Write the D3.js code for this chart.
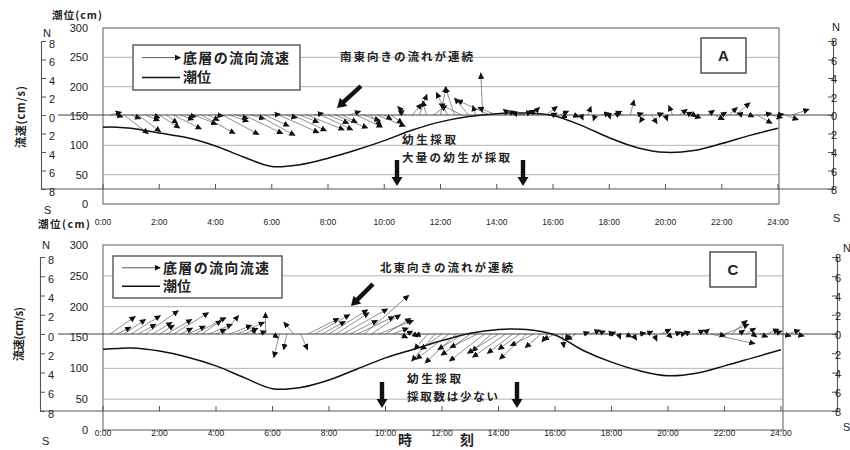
<!DOCTYPE html>
<html>
<head>
<meta charset="utf-8">
<script src="https://cdn.jsdelivr.net/npm/d3@7"></script>
<style>
	body { margin: 0; background: #fff; }
	svg text { font-family: "Liberation Sans", "Noto Sans CJK JP", sans-serif; fill: #222; }
	.jp { font-family: "Noto Sans CJK JP", sans-serif; font-weight: bold; }
</style>
</head>
<body>
<svg id="chart" width="850" height="450"></svg>
<script>

///////////////////////////////
// 	         Data            //
///////////////////////////////

// tide level (cm)
var tideHours = [0, 0.5, 1, 2, 3, 4, 5, 6, 7, 8, 9, 10, 11, 12, 13, 14, 15, 16, 17, 18, 19, 20, 21, 22, 23, 24];
var tideA = [131, 131, 129, 121, 113, 99, 80, 64, 67, 78, 92, 108, 126, 140, 149, 154, 155, 151, 134, 113, 96, 88, 91, 103, 117, 129];
var tideC = [131, 132, 133, 128, 118, 104, 85, 67, 69, 81, 99, 117, 131, 145, 157, 163, 163, 154, 129, 110, 96, 88, 92, 104, 117, 130];

// axis ticks
var timeTicks = [0, 2, 4, 6, 8, 10, 12, 14, 16, 18, 20, 22, 24];
var timeLabels = ["0:00", "2:00", "4:00", "6:00", "8:00", "10:00", "12:00", "14:00", "16:00", "18:00", "20:00", "22:00", "24:00"];
var tideTicks = [0, 50, 100, 150, 200, 250, 300];
var velTicks = [-8, -6, -4, -2, 0, 2, 4, 6, 8];
var velLabels = ["8", "6", "4", "2", "0", "2", "4", "6", "8"];

// bottom current, every 15 min from 0:15 : east (u) and north (v) components, cm/s
// (one row per hour)
var stepMin = 15;
var uA = [1.2, 0.6, 2.6, 1.0,   2.4, 1.5, 0.8, 2.2,   1.2, 3.0, 1.4, 0.9,   2.4, 3.6, 1.1, 0.8,
	3.9, 2.0, 1.2, 4.2,   1.5, 4.0, 2.6, 0.9,   4.3, 1.2, 3.6, 2.0,   4.0, 1.0, 3.4, 2.2,
	3.5, 1.6, 1.2, 2.8,   1.8, 1.2, 3.0, 0.8,   1.2, 0.6, -0.8, 1.0,   0.8, -0.4, 1.4, 0.6,
	-1.2, -1.0, -2.4, -1.5,   -0.3, -0.2, -3.5, -2.0,   1.2, -0.8, 1.5, -1.4,   0.8, -1.0, 1.2, 0.4,
	0.9, -0.6, 0.5, 0.2,   0.3, -0.2, 0.8, 0.1,   0.4, -0.8, 0.4, 0.6,   -0.5, 0.6, 0.5, 0.2,
	-0.4, 0.8, 0.6, 0.3,   -0.6, 0.7, 1.0, 0.5,   0.9, 1.5, -0.6, 0.4,   1.6, 0.8, 1.2, 0.6,
	1.4, 1.8];
var vA = [0.3, -0.2, -2.0, -0.4,   -1.8, -0.6, -0.3, -1.4,   -0.9, -1.5, -0.5, -0.2,   -1.0, -2.0, -0.6, -0.1,
	-2.1, -0.7, -0.4, -2.0,   -0.4, -2.2, -1.2, 0.1,   -1.9, -0.3, -1.7, -0.8,   -1.6, 0.2, -1.6, -0.9,
	-1.4, -0.8, 0.4, -1.3,   -0.6, -1.1, -1.2, -0.5,   -0.9, 0.5, 0.9, 1.2,   2.2, 1.5, 1.0, 3.0,
	2.4, 3.0, 1.2, 1.8,   1.0, 4.5, 1.6, 0.8,   0.4, 0.6, 0.3, 0.2,   0.8, 0.5, 0.9, 0.2,
	0.4, -0.3, -0.2, -0.5,   0.9, -0.6, 0.2, -0.4,   0.3, 0.4, 1.6, 0.2,   -0.8, -0.9, 0.2, -0.6,
	1.0, 0.6, 0.3, -0.2,   -0.4, 0.5, -0.5, 0.3,   0.8, 1.3, 0.2, -0.2,   -0.9, 0.2, -0.3, 0.1,
	-0.5, 0.6];
var uC = [2.6, 1.4, 2.2, 3.0,   1.8, 3.4, 2.0, 1.5,   2.6, 3.6, 1.2, 1.8,   3.2, 2.0, 2.4, 1.0,
	1.6, 2.2, 2.8, 1.4,   0.5, 0.8, 0.0, 0.6,   -0.6, -0.3, -1.0, 0.7,   3.2, 3.6, 2.4, 4.0,
	3.4, 4.6, 2.8, 3.8,   4.6, 3.0, 3.6, 2.6,   1.6, 0.8, 0.6, 0.4,   -0.6, -1.4, -2.4, -2.2,
	-3.4, -3.2, -2.6, -3.0,   -2.8, -3.6, -2.0, -3.2,   -3.4, -2.6, -2.2, -2.8,   -2.4, -1.6, -0.6, -1.2,
	0.2, -0.4, -1.0, 0.6,   1.0, 0.8, 1.0, 0.4,   0.2, 0.6, 0.4, 0.6,   0.6, 0.3, 1.0, 0.4,
	0.6, 0.4, -0.5, 0.8,   0.6, 4.6, 0.8, 2.5,   1.6, 0.6, 1.0, 0.4,   0.8, 1.2, 0.8, 1.0,
	1.2, 0.9];
var vC = [1.8, 0.7, 1.5, 1.9,   1.0, 2.4, 1.2, 0.9,   1.5, 2.2, 0.6, 0.8,   1.7, 1.4, 1.0, 0.5,
	1.9, 0.9, 1.2, 0.6,   0.6, 0.3, 2.2, -0.4,   -2.4, -1.6, 1.2, -1.6,   1.6, 2.0, 1.3, 2.5,
	2.2, 2.6, 1.4, 1.8,   4.0, 2.0, 1.4, 1.6,   0.6, -0.4, 0.3, -0.3,   -0.2, -1.6, -2.8, -1.6,
	-2.6, -3.0, -1.6, -2.2,   -1.4, -2.8, -1.8, -2.0,   -2.4, -2.0, -1.6, -2.6,   -1.2, -1.4, -0.8, -0.6,
	-1.4, -0.6, -0.6, 0.2,   0.4, 0.3, 0.1, 0.2,   -0.5, -0.3, -0.6, 0.1,   0.3, -0.7, 0.5, -0.4,
	0.2, 0.1, 0.3, 0.4,   0.5, -1.0, -0.2, 1.0,   1.4, 0.4, 0.6, -0.3,   -0.3, 0.5, 0.3, -0.2,
	0.4, -0.2];

// Panels, layout *****
var panels = [
	{ tide: tideA, u: uA, v: vA, letter: "A",
	  x0: 103, x24: 778, boxRight: 779, boxTop: 28, boxBottom: 204,
	  velTop: 41, velBottom: 189, velLeft: 41, velRight: 833,
	  tideTitle: [52, 15, 50], velTitle: [21, 117, 62], timeLabelY: 222,
	  N: [[43, 33], [832, 27]], S: [[44, 210], [833, 218]],
	  legend: [133, 45, 167, 45], badge: [701, 38, 45, 35],
	  notes: [["南東向きの流れが連続", 340, 57, 133], ["幼生採取", 402, 140, 54], ["大量の幼生が採取", 402, 158, 108]],
	  bold: [[361, 86, 337, 108]], down: [[397, 160, 186], [523, 160, 186]] },
	{ tide: tideC, u: uC, v: vC, letter: "C",
	  x0: 103, x24: 781, boxRight: 783, boxTop: 245, boxBottom: 430,
	  velTop: 257, velBottom: 411, velLeft: 40, velRight: 837,
	  tideTitle: [38, 224, 52], velTitle: [19, 334, 54], timeLabelY: 433,
	  N: [[42, 245], [843, 248]], S: [[42, 441], [843, 427]],
	  legend: [113, 256, 169, 42], badge: [710, 252, 46, 35],
	  notes: [["北東向きの流れが連続", 380, 268, 133], ["幼生採取", 407, 379, 54], ["採取数は少ない", 407, 397, 91]],
	  bold: [[373, 284, 351, 306]], down: [[382, 382, 408], [517, 382, 408]] }
];

var svg = d3.select("#chart");

// arrow head for the current sticks
svg.append("defs").append("marker")
	.attr("id", "head")
	.attr("markerUnits", "userSpaceOnUse")
	.attr("viewBox", "0 -3 6 6")
	.attr("refX", 5).attr("refY", 0)
	.attr("markerWidth", 6.5).attr("markerHeight", 6.5)
	.attr("orient", "auto")
	.append("path")
	.attr("d", "M0,-2.8L6,0L0,2.8Z")
	.attr("fill", "#111");

// thick black arrow, from tail to head
var blockArrow = function( g, x1, y1, x2, y2 ) {
	var dx = x2 - x1, dy = y2 - y1;
	var len = Math.sqrt(dx*dx + dy*dy);
	var ang = Math.atan2(dy, dx) * 180 / Math.PI;
	var hl = 9, hw = 5.5, sw = 2.2;
	var d = "M0," + (-sw) + "L" + (len-hl) + "," + (-sw) + "L" + (len-hl) + "," + (-hw) + "L" + len + ",0L" +
		(len-hl) + "," + hw + "L" + (len-hl) + "," + sw + "L0," + sw + "Z";
	g.append("path")
		.attr("d", d)
		.attr("fill", "#111")
		.attr("transform", "translate(" + x1 + "," + y1 + ") rotate(" + ang + ")");
}

var drawPanel = function( p ) {

	var g = svg.append("g");

	var x = d3.scaleLinear().domain([0, 24]).range([p.x0, p.x24]);
	var yT = d3.scaleLinear().domain([0, 300]).range([p.boxBottom, p.boxTop]);
	var yV = d3.scaleLinear().domain([-8, 8]).range([p.velBottom, p.velTop]);
	var k = yV(0) - yV(1);   // px per cm/s, same both ways

	// gridlines of tide level
	g.selectAll(".grid").data(tideTicks.filter(function(d){ return d > 0 && d < 300 && d != 150 })).enter()
		.append("line")
		.attr("x1", p.x0).attr("x2", p.boxRight)
		.attr("y1", function(d){ return yT(d) }).attr("y2", function(d){ return yT(d) })
		.attr("stroke", "#b4b4b4").attr("stroke-width", 1);

	// plot box
	g.append("rect")
		.attr("x", p.x0).attr("y", p.boxTop)
		.attr("width", p.boxRight - p.x0).attr("height", p.boxBottom - p.boxTop)
		.attr("fill", "none").attr("stroke", "#777").attr("stroke-width", 1.2);

	// tide labels
	g.selectAll(".tlab").data(tideTicks).enter()
		.append("text")
		.attr("x", 88).attr("y", function(d){ return yT(d) })
		.attr("dy", "0.35em")
		.attr("text-anchor", "end")
		.attr("font-size", "11px")
		.text(function(d){ return d });

	// velocity zero line
	g.append("line")
		.attr("x1", 58).attr("x2", p.velRight)
		.attr("y1", yV(0)).attr("y2", yV(0))
		.attr("stroke", "#444").attr("stroke-width", 1.1);

	// velocity bottom axis with time ticks
	g.append("line")
		.attr("x1", p.velLeft).attr("x2", p.velRight)
		.attr("y1", p.velBottom).attr("y2", p.velBottom)
		.attr("stroke", "#555").attr("stroke-width", 1.2);
	g.selectAll(".ttick").data(timeTicks).enter()
		.append("line")
		.attr("x1", function(d){ return x(d) }).attr("x2", function(d){ return x(d) })
		.attr("y1", p.velBottom - 5).attr("y2", p.velBottom)
		.attr("stroke", "#555");

	// left and right velocity axes
	var leftAx = d3.axisRight(yV).tickValues(velTicks).tickSize(5).tickFormat(function(d, i){ return velLabels[i] });
	var rightAx = d3.axisLeft(yV).tickValues(velTicks).tickSize(5).tickFormat("");
	var la = g.append("g").attr("transform", "translate(" + p.velLeft + ",0)").call(leftAx);
	la.selectAll("text").attr("font-size", "11px").attr("x", 8).attr("dy", "0.55em");
	var ra = g.append("g").attr("transform", "translate(" + p.velRight + ",0)").call(rightAx);
	ra.selectAll(".tick").append("text")
		.attr("x", 4).attr("dy", "0.45em")
		.attr("font-size", "11px")
		.text(function(d, i){ return velLabels[i] });
	g.selectAll(".domain").attr("stroke", "#555").attr("stroke-width", 1.1);
	g.selectAll(".tick line").attr("stroke", "#555");

	// time labels
	g.selectAll(".xlab").data(timeTicks).enter()
		.append("text")
		.attr("x", function(d){ return x(d) }).attr("y", p.timeLabelY)
		.attr("dy", "0.35em")
		.attr("text-anchor", "middle")
		.attr("font-size", "8.5px")
		.attr("fill", "#333")
		.text(function(d, i){ return timeLabels[i] });

	// N / S marks
	p.N.forEach(function(c){
		g.append("text").attr("x", c[0]).attr("y", c[1]).attr("dy", "0.35em").attr("font-size", "11px").text("N");
	});
	p.S.forEach(function(c){
		g.append("text").attr("x", c[0]).attr("y", c[1]).attr("dy", "0.35em").attr("font-size", "11px").text("S");
	});

	// axis titles
	g.append("text")
		.attr("class", "jp")
		.attr("x", p.tideTitle[0]).attr("y", p.tideTitle[1])
		.attr("dy", "0.35em")
		.attr("font-size", "10.5px")
		.attr("textLength", p.tideTitle[2])
		.text("潮位(cm)");
	g.append("text")
		.attr("class", "jp")
		.attr("transform", "translate(" + p.velTitle[0] + "," + p.velTitle[1] + ") rotate(-90)")
		.attr("text-anchor", "middle")
		.attr("dy", "0.35em")
		.attr("font-size", "11px")
		.attr("textLength", p.velTitle[2])
		.text("流速(cm/s)");

	// tide curve
	var line = d3.line()
		.x(function(d, i){ return x(tideHours[i]) })
		.y(function(d){ return yT(d) })
		.curve(d3.curveCatmullRom.alpha(0.5));
	g.append("path")
		.datum(p.tide)
		.attr("d", line)
		.attr("fill", "none")
		.attr("stroke", "#111")
		.attr("stroke-width", 1.5);

	// current sticks
	g.selectAll(".stick").data(p.u).enter()
		.append("line")
		.attr("x1", function(d, i){ return x((i+1)*stepMin/60) })
		.attr("y1", yV(0))
		.attr("x2", function(d, i){ return x((i+1)*stepMin/60) + d*k })
		.attr("y2", function(d, i){ return yV(p.v[i]) })
		.attr("stroke", "#444")
		.attr("stroke-width", 0.6)
		.attr("marker-end", "url(#head)");

	// legend
	var lg = p.legend;
	g.append("rect")
		.attr("x", lg[0]).attr("y", lg[1]).attr("width", lg[2]).attr("height", lg[3])
		.attr("fill", "#fff").attr("stroke", "#555").attr("stroke-width", 1.4);
	var r1 = lg[1] + lg[3]*0.28, r2 = lg[1] + lg[3]*0.72;
	g.append("line")
		.attr("x1", lg[0]+9).attr("x2", lg[0]+47).attr("y1", r1).attr("y2", r1)
		.attr("stroke", "#333").attr("stroke-width", 0.8).attr("marker-end", "url(#head)");
	g.append("line")
		.attr("x1", lg[0]+9).attr("x2", lg[0]+47).attr("y1", r2).attr("y2", r2)
		.attr("stroke", "#111").attr("stroke-width", 1.5);
	g.append("text").attr("class", "jp")
		.attr("x", lg[0]+50).attr("y", r1).attr("dy", "0.35em")
		.attr("font-size", "14px").attr("textLength", 106)
		.text("底層の流向流速");
	g.append("text").attr("class", "jp")
		.attr("x", lg[0]+50).attr("y", r2).attr("dy", "0.35em")
		.attr("font-size", "14px")
		.text("潮位");

	// panel letter
	var b = p.badge;
	g.append("rect")
		.attr("x", b[0]).attr("y", b[1]).attr("width", b[2]).attr("height", b[3])
		.attr("fill", "#fff").attr("stroke", "#444").attr("stroke-width", 1.4);
	g.append("text")
		.attr("x", b[0] + b[2]/2).attr("y", b[1] + b[3]/2)
		.attr("dy", "0.35em").attr("text-anchor", "middle")
		.attr("font-size", "15px").attr("font-weight", "bold")
		.text(p.letter);

	// notes
	p.notes.forEach(function(n){
		g.append("text").attr("class", "jp")
			.attr("x", n[1]).attr("y", n[2]).attr("dy", "0.35em")
			.attr("font-size", "11.5px").attr("textLength", n[3])
			.text(n[0]);
	});

	p.bold.forEach(function(a){ blockArrow(g, a[0], a[1], a[2], a[3]) });
	p.down.forEach(function(a){ blockArrow(g, a[0], a[1], a[0], a[2]) });
}

panels.forEach(drawPanel);

// time axis title
svg.append("text").attr("class", "jp").attr("x", 405).attr("y", 440).attr("dy", "0.35em")
	.attr("text-anchor", "middle").attr("font-size", "14px").text("時");
svg.append("text").attr("class", "jp").attr("x", 467).attr("y", 440).attr("dy", "0.35em")
	.attr("text-anchor", "middle").attr("font-size", "14px").text("刻");

</script>
</body>
</html>
